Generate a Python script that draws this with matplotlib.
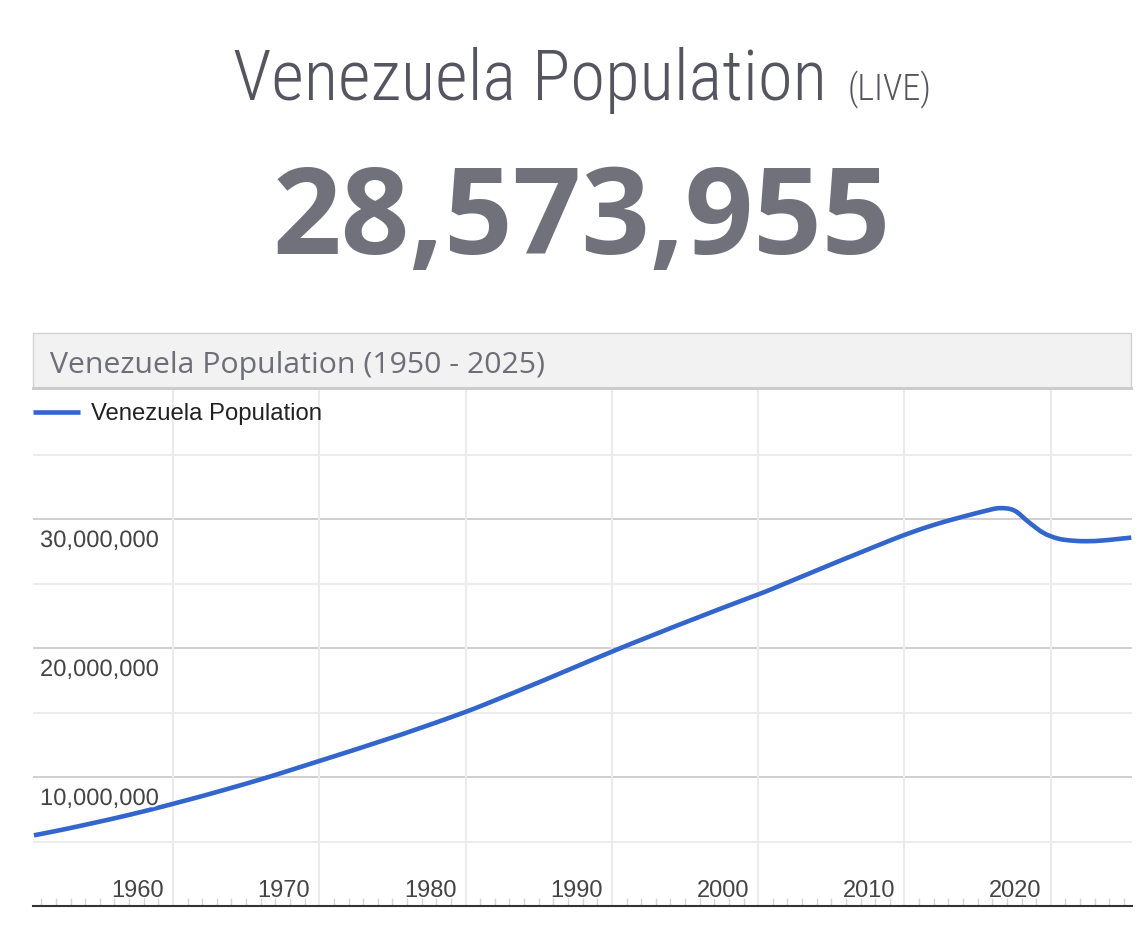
import numpy as np
import matplotlib
matplotlib.use("Agg")
import matplotlib.pyplot as plt
from matplotlib import font_manager
from matplotlib.patches import Rectangle, PathPatch
from matplotlib.path import Path
from matplotlib.lines import Line2D
from matplotlib.transforms import ScaledTranslation, blended_transform_factory
import matplotlib.patheffects as pe

# data (millions, one value per year)
years = np.arange(1950, 2026)
population_m = [
    5.48, 5.70, 5.93, 6.17, 6.42, 6.67, 6.93, 7.20, 7.48, 7.77,   # 1950s
    8.07, 8.37, 8.68, 9.00, 9.32, 9.65, 9.99, 10.34, 10.70, 11.06,  # 1960s
    11.42, 11.78, 12.14, 12.51, 12.88, 13.25, 13.64, 14.03, 14.43, 14.84,  # 1970s
    15.26, 15.71, 16.17, 16.63, 17.10, 17.57, 18.05, 18.53, 19.01, 19.48,  # 1980s
    19.95, 20.41, 20.86, 21.31, 21.76, 22.20, 22.64, 23.08, 23.51, 23.94,  # 1990s
    24.37, 24.84, 25.31, 25.78, 26.25, 26.72, 27.18, 27.64, 28.10, 28.55,  # 2000s
    28.97, 29.36, 29.71, 30.03, 30.33, 30.62, 30.84, 30.66, 29.75, 28.92,  # 2010s
    28.48, 28.32, 28.28, 28.33, 28.44, 28.56,                               # 2020s
]
live_count = "28,573,955"
page_title = "Venezuela Population"
live_tag = "(LIVE)"
chart_title = "Venezuela Population (1950 - 2025)"
series_name = "Venezuela Population"
y_major = [10_000_000, 20_000_000, 30_000_000]
y_minor = [5_000_000, 15_000_000, 25_000_000, 35_000_000]
x_major = list(range(1960, 2021, 10))

W, H = 1148, 934
BLUE = "#3366cc"


def fx(px):
    return px / W


def fy(py):
    return 1 - py / H


def pick_font(*names):
    installed = {f.name for f in font_manager.fontManager.ttflist}
    for n in names:
        if n in installed:
            return n
    return "DejaVu Sans"


def smooth_path(x, y):
    # catmull-rom through the points, as bezier segments (like curveType 'function')
    pts = np.column_stack([x, y])
    padded = np.vstack([pts[0], pts, pts[-1]])
    verts = [pts[0]]
    codes = [Path.MOVETO]
    for i in range(len(pts) - 1):
        p0, p1, p2, p3 = padded[i], padded[i + 1], padded[i + 2], padded[i + 3]
        verts += [p1 + (p2 - p0) / 6, p2 - (p3 - p1) / 6, p2]
        codes += [Path.CURVE4] * 3
    return Path(verts, codes)


narrow = pick_font("Roboto Condensed", "Open Sans Condensed", "Liberation Sans Narrow", "Roboto")
opensans = pick_font("Open Sans", "Noto Sans", "DejaVu Sans")
arial = pick_font("Liberation Sans", "Arial", "DejaVu Sans")

fig = plt.figure(figsize=(W / 100, H / 100), dpi=100)
fig.patch.set_facecolor("white")

# page heading
t1 = fig.text(fx(233), fy(100), page_title, family=narrow, weight="light",
              fontsize=53, color="#55555f", ha="left", va="baseline")
t2 = fig.text(fx(848), fy(100), live_tag, family=narrow, weight="light",
              fontsize=27, color="#55555f", ha="left", va="baseline")
renderer = fig.canvas.get_renderer()
for txt, target in [(t1, 595), (t2, 84)]:
    w = txt.get_window_extent(renderer).width
    txt.set_fontsize(txt.get_fontsize() * target / w)

fig.text(fx(582), fy(254), live_count, family=opensans, weight="bold",
         fontsize=86.5, color="#71717b", ha="center", va="baseline")

# chart header box
fig.patches.append(Rectangle((fx(32.5), fy(388)), fx(1131) - fx(32.5), fy(333) - fy(388),
                             transform=fig.transFigure, facecolor="#f2f2f2",
                             edgecolor="#d2d2d2", lw=1.0, zorder=1))
fig.lines.append(Line2D([fx(32.5), fx(1131)], [fy(387.5), fy(387.5)],
                        transform=fig.transFigure, color="#cccccc", lw=2.2, zorder=2))
fig.text(fx(50), fy(372.5), chart_title, family=opensans, fontsize=21.8,
         color="#6e6e78", ha="left", va="baseline")

ax = fig.add_axes([fx(32.5), fy(906), fx(1132) - fx(32.5), fy(390) - fy(906)])

for v in y_minor:
    ax.axhline(v, color="#ebebeb", lw=1.3, zorder=1)
for v in y_major:
    ax.axhline(v, color="#cccccc", lw=1.3, zorder=1)
for yr in x_major:
    ax.axvline(yr, color="#ebebeb", lw=1.5, zorder=1)

# mid-year values, drawn as a smooth curve
curve = PathPatch(smooth_path(years + 0.5, np.array(population_m) * 1e6),
                  facecolor="none", edgecolor=BLUE, lw=3.3, zorder=3)
ax.add_patch(curve)

for s in ["top", "left", "right"]:
    ax.spines[s].set_visible(False)
ax.spines["bottom"].set_color("#333333")
ax.spines["bottom"].set_linewidth(1.5)
ax.spines["bottom"].set_zorder(4)

ax.set_yticks([])
ax.set_xticks(x_major)
ax.set_xticks(years, minor=True)
ax.tick_params(axis="x", which="major", length=0, labelbottom=False)
ax.tick_params(axis="x", which="minor", direction="in", length=5.5, width=1.0, color="#d4d4d4")
ax.set_xlim(1950.4, 2025.55)
ax.set_ylim(0, 40_000_000)

halo = [pe.withStroke(linewidth=3, foreground="white")]
ylab_tr = blended_transform_factory(ax.transAxes, ax.transData) + \
    ScaledTranslation(7.5 / 100, -28 / 100, fig.dpi_scale_trans)
for v in y_major:
    ax.text(0, v, f"{v:,}", transform=ylab_tr, family=arial, fontsize=17.1,
            color="#444444", ha="left", va="baseline", zorder=5, path_effects=halo)

xlab_tr = blended_transform_factory(ax.transData, ax.transAxes) + \
    ScaledTranslation(-35.4 / 100, 9.3 / 100, fig.dpi_scale_trans)
for yr in x_major:
    ax.text(yr, 0, str(yr), transform=xlab_tr, family=arial, fontsize=17.0,
            color="#444444", ha="center", va="baseline", zorder=5)

proxy = Line2D([], [], color=BLUE, lw=3.3, solid_capstyle="butt")
leg = ax.legend(handles=[proxy], labels=[series_name], loc="center left",
                bbox_to_anchor=(0, 1 - 24 / 516), frameon=False, borderpad=0,
                borderaxespad=0, handlelength=2.0, handletextpad=0.45,
                prop={"family": arial, "size": 17.2})
for t in leg.get_texts():
    t.set_color("#222222")

fig.savefig("out.png", dpi=100, facecolor="white")
